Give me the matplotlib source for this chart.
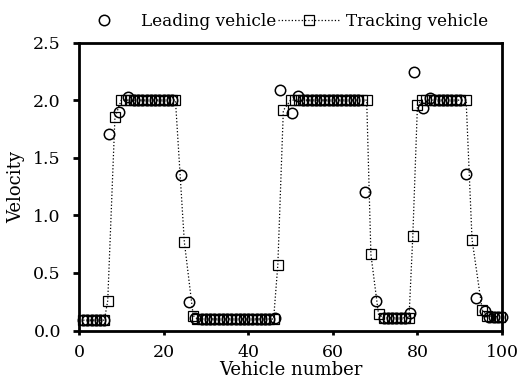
import numpy as np
import matplotlib.pyplot as plt

# leading vehicle velocity (circles)
lead_n = [1, 2, 3, 4, 5, 6, 7, 9.5, 11.5, 13, 14, 15, 16, 17, 18, 19, 20, 21, 22,
          24, 26, 27.5, 29, 30, 31, 32, 33, 34, 35, 36, 37, 38, 39, 40, 41, 42, 43, 44, 45, 46.3,
          47.5, 50.3, 51.8, 53, 54, 55, 56, 57, 58, 59, 60, 61, 62, 63, 64, 65, 66,
          67.6, 70.2, 72, 73, 74, 75, 76, 77, 78.3,
          79.2, 81.4, 83, 84, 85, 86, 87, 88, 89, 90,
          91.5, 93.9, 96, 97, 98, 99, 100]
lead_v = [0.09, 0.09, 0.09, 0.09, 0.09, 0.09, 1.71, 1.90, 2.03, 2.0, 2.0, 2.0, 2.0, 2.0, 2.0, 2.0, 2.0, 2.0, 2.0,
          1.35, 0.25, 0.11, 0.10, 0.10, 0.10, 0.10, 0.10, 0.10, 0.10, 0.10, 0.10, 0.10, 0.10, 0.10, 0.10, 0.10, 0.10, 0.10, 0.10, 0.11,
          2.09, 1.89, 2.04, 2.0, 2.0, 2.0, 2.0, 2.0, 2.0, 2.0, 2.0, 2.0, 2.0, 2.0, 2.0, 2.0, 2.0,
          1.20, 0.26, 0.11, 0.11, 0.11, 0.11, 0.11, 0.11, 0.15,
          2.24, 1.93, 2.02, 2.0, 2.0, 2.0, 2.0, 2.0, 2.0, 2.0,
          1.36, 0.28, 0.17, 0.12, 0.12, 0.12, 0.12]

# tracking vehicle velocity (squares, dotted)
track_n = [1, 2, 3, 4, 5, 6, 6.8, 8.5, 10, 11, 12, 13, 14, 15, 16, 17, 18, 19, 20, 21, 22, 22.8,
           24.9, 27, 28, 29, 30, 31, 32, 33, 34, 35, 36, 37, 38, 39, 40, 41, 42, 43, 44, 45, 46,
           47, 48.3, 50, 51, 52, 53, 54, 55, 56, 57, 58, 59, 60, 61, 62, 63, 64, 65, 66, 67, 68,
           69, 70.8, 72, 73, 74, 75, 76, 77, 78,
           78.9, 80, 81, 82, 83, 84, 85, 86, 87, 88, 89, 90, 91.5,
           92.9, 95.3, 96.5, 97.5, 98.5, 99.5]
track_v = [0.09, 0.09, 0.09, 0.09, 0.09, 0.09, 0.26, 1.85, 2.0, 2.0, 2.0, 2.0, 2.0, 2.0, 2.0, 2.0, 2.0, 2.0, 2.0, 2.0, 2.0, 2.0,
           0.77, 0.13, 0.10, 0.10, 0.10, 0.10, 0.10, 0.10, 0.10, 0.10, 0.10, 0.10, 0.10, 0.10, 0.10, 0.10, 0.10, 0.10, 0.10, 0.10, 0.10,
           0.57, 1.91, 2.0, 2.0, 2.0, 2.0, 2.0, 2.0, 2.0, 2.0, 2.0, 2.0, 2.0, 2.0, 2.0, 2.0, 2.0, 2.0, 2.0, 2.0, 2.0,
           0.66, 0.14, 0.11, 0.11, 0.11, 0.11, 0.11, 0.11, 0.11,
           0.82, 1.96, 2.0, 2.0, 2.0, 2.0, 2.0, 2.0, 2.0, 2.0, 2.0, 2.0, 2.0,
           0.79, 0.18, 0.13, 0.12, 0.12, 0.12]

plt.rcParams['font.family'] = ['DejaVu Serif']

fig = plt.figure(figsize=(5.23, 3.83), dpi=100)
ax = fig.add_axes([0.151, 0.137, 0.809, 0.752])

ax.plot(lead_n, lead_v, linestyle='none', marker='o', ms=7.5, mfc='none',
        mec='black', mew=1.1, label='Leading vehicle', clip_on=False)
ax.plot(track_n, track_v, linestyle=':', color='black', lw=0.9, marker='s', ms=6.8,
        mfc='none', mec='black', mew=0.9, label='Tracking vehicle', clip_on=False)

ax.set_xlim(0, 100)
ax.set_ylim(0, 2.5)
ax.set_xticks([0, 20, 40, 60, 80, 100])
ax.set_yticks([0.0, 0.5, 1.0, 1.5, 2.0, 2.5])
ax.set_yticklabels(['0.0', '0.5', '1.0', '1.5', '2.0', '2.5'])
ax.tick_params(direction='out', width=2, labelsize=12.5)
ax.tick_params(axis='y', length=4, pad=9)
ax.tick_params(axis='x', length=3, pad=7)
for s in ax.spines.values():
    s.set_linewidth(2)

ax.set_xlabel('Vehicle number', fontsize=13, labelpad=0)
ax.set_ylabel('Velocity', fontsize=13, labelpad=6)

fig.legend(loc='center', bbox_to_anchor=(0.536, 0.943), ncol=2, frameon=False,
           fontsize=12.2, handlelength=3.7, columnspacing=0.1, handletextpad=0.3,
           borderaxespad=0, borderpad=0)

fig.savefig('out.png', dpi=100)
